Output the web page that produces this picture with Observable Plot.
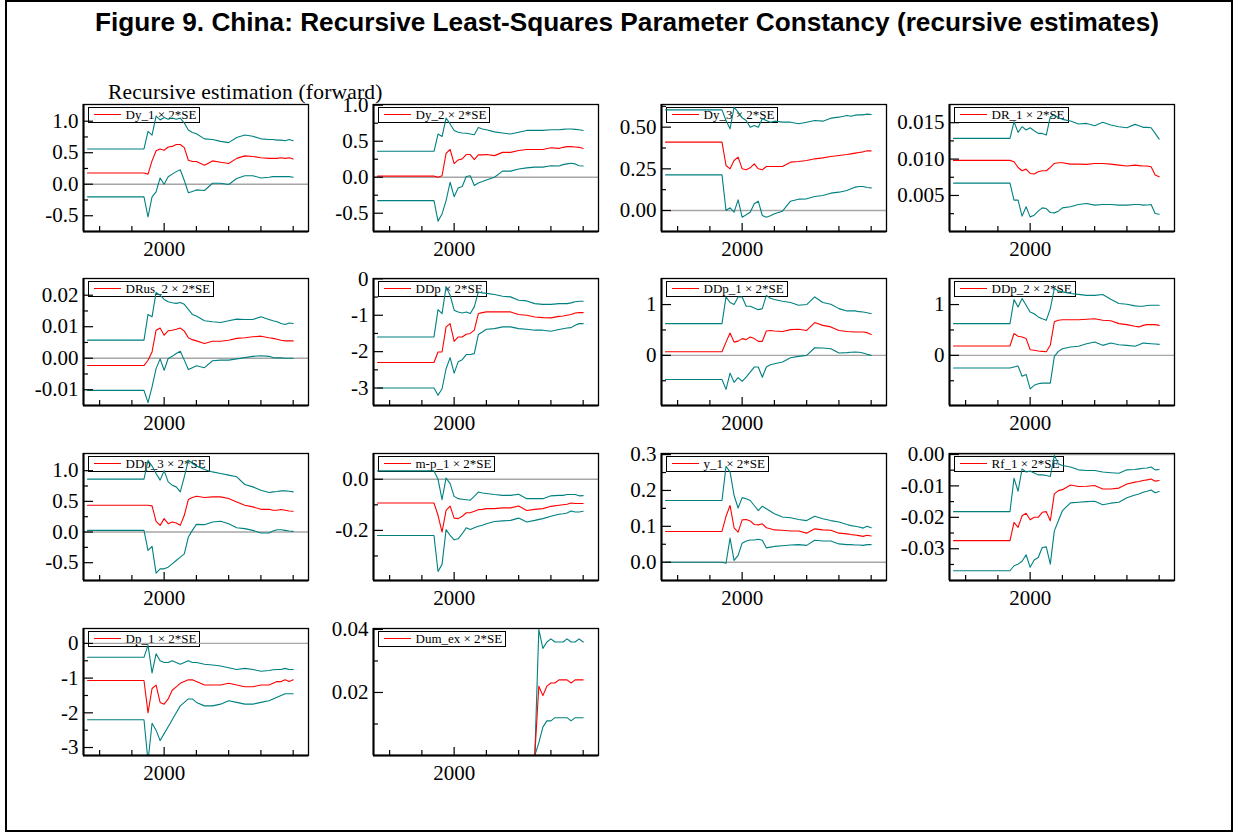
<!DOCTYPE html>
<html><head><meta charset="utf-8">
<script src="https://cdn.jsdelivr.net/npm/d3@7"></script>
<script src="https://cdn.jsdelivr.net/npm/@observablehq/plot@0.6"></script>
<style>
body{margin:0;background:#fff;}
#page{position:relative;width:1234px;height:833px;overflow:hidden;background:#fff;}
#page > svg.deco{position:absolute;left:0;top:0;}
.panel{position:absolute;z-index:2;}
.legend{position:absolute;z-index:1;box-sizing:border-box;height:16px;border:1px solid #000;display:flex;align-items:center;padding-right:3px;font:13px 'Liberation Serif','Times New Roman',serif;white-space:nowrap;}
.legend .sw{display:inline-block;width:27px;height:0;border-top:1px solid #ff0000;margin-left:5px;margin-right:5px;}
</style></head>
<body><div id="page"></div>
<script>
// ---------- data ----------
// time grid (decimal years) for recursive estimates
const quarters = [1995.25, 1998.75, 1999.0, 1999.25, 1999.5, 1999.75, 2000.0, 2000.25, 2000.5, 2000.75,
  2001.0, 2001.25, 2001.5, 2001.75, 2002.0, 2002.5, 2003.0, 2003.5, 2004.0, 2004.5,
  2005.0, 2005.5, 2006.0, 2006.5, 2006.75, 2007.0, 2007.25, 2007.5, 2007.75, 2008.0];
const dumDates = [1995.25, 2005.0, 2005.25, 2005.5, 2005.75, 2006.0, 2006.25, 2006.5, 2006.75, 2007.0, 2007.25, 2007.5, 2007.75, 2008.0];

const Dy_1_hi = [0.56,0.56,0.84,0.78,1.08,1.02,1.06,1.03,1.05,1.03,1.05,0.97,0.86,0.82,0.80,0.72,0.71,0.68,0.66,0.74,0.78,0.76,0.72,0.71,0.71,0.70,0.70,0.69,0.71,0.69];
const Dy_1_est = [0.177,0.177,0.16,0.37,0.53,0.56,0.54,0.59,0.60,0.63,0.63,0.58,0.38,0.36,0.36,0.30,0.37,0.35,0.33,0.41,0.45,0.44,0.42,0.41,0.41,0.41,0.42,0.41,0.42,0.40];
const Dy_1_lo = [-0.20,-0.20,-0.52,-0.20,-0.12,0.10,0.0,0.12,0.16,0.20,0.23,0.06,-0.135,-0.115,-0.09,-0.10,0.015,0.015,-0.005,0.09,0.135,0.135,0.10,0.11,0.12,0.12,0.12,0.12,0.12,0.11];

const Dy_2_hi = [0.36,0.36,0.60,0.565,0.82,0.74,0.65,0.625,0.615,0.61,0.60,0.59,0.69,0.67,0.66,0.63,0.615,0.60,0.625,0.65,0.65,0.65,0.66,0.66,0.665,0.67,0.67,0.665,0.66,0.65];
const Dy_2_est = [0.015,0.015,0.0,0.02,0.33,0.385,0.19,0.24,0.255,0.315,0.315,0.245,0.31,0.31,0.315,0.30,0.345,0.345,0.37,0.385,0.385,0.385,0.41,0.40,0.415,0.425,0.425,0.42,0.415,0.40];
const Dy_2_lo = [-0.325,-0.325,-0.61,-0.51,-0.325,-0.07,-0.27,-0.15,-0.13,0.01,0.02,-0.115,-0.08,-0.06,-0.04,0.0,0.085,0.085,0.115,0.13,0.14,0.14,0.16,0.155,0.175,0.185,0.195,0.185,0.16,0.155];

const Dy_3_hi = [0.604,0.604,0.54,0.49,0.62,0.59,0.556,0.54,0.50,0.51,0.50,0.55,0.54,0.53,0.536,0.53,0.53,0.52,0.53,0.54,0.536,0.554,0.56,0.57,0.565,0.572,0.574,0.574,0.578,0.576];
const Dy_3_est = [0.41,0.41,0.27,0.25,0.30,0.32,0.25,0.244,0.256,0.28,0.25,0.244,0.264,0.264,0.264,0.264,0.29,0.294,0.30,0.31,0.316,0.324,0.33,0.336,0.34,0.344,0.348,0.352,0.358,0.358];
const Dy_3_lo = [0.214,0.214,0.0,0.016,-0.01,0.064,-0.04,-0.026,-0.01,0.04,0.056,-0.03,-0.04,-0.032,-0.02,-0.004,0.056,0.068,0.07,0.084,0.09,0.104,0.11,0.12,0.13,0.14,0.144,0.144,0.138,0.136];

const DR_1_hi = [0.01284,0.01284,0.01514,0.01367,0.01445,0.0140,0.0143,0.0139,0.01353,0.01353,0.0133,0.01583,0.01606,0.01569,0.01546,0.01523,0.01482,0.0149,0.01459,0.01505,0.01468,0.01445,0.01431,0.01477,0.01459,0.01436,0.01436,0.01431,0.01353,0.01275];
const DR_1_est = [0.00982,0.00982,0.00963,0.00885,0.0084,0.00862,0.00803,0.00794,0.00826,0.0084,0.0084,0.00885,0.0094,0.0095,0.0095,0.00931,0.00931,0.00927,0.0094,0.0094,0.00931,0.00917,0.00904,0.00917,0.0091,0.00904,0.00904,0.00894,0.0078,0.00757];
const DR_1_lo = [0.0067,0.0067,0.00436,0.00436,0.00216,0.00344,0.00206,0.00229,0.00284,0.0033,0.0032,0.00266,0.00261,0.00284,0.0033,0.00344,0.00376,0.0039,0.00367,0.00376,0.00376,0.00367,0.00367,0.00376,0.00376,0.00367,0.0037,0.00376,0.00252,0.00243];

const DRus_2_hi = [0.00573,0.00573,0.0139,0.01315,0.0209,0.0200,0.01866,0.0179,0.0176,0.0174,0.0177,0.0171,0.0155,0.0139,0.0134,0.01188,0.01156,0.01135,0.01188,0.0124,0.0123,0.0123,0.01315,0.0123,0.0119,0.0116,0.0110,0.0107,0.0112,0.0110];
const DRus_2_est = [-0.00233,-0.00233,-0.00064,0.002,0.0089,0.0096,0.0073,0.0087,0.0089,0.0092,0.0096,0.0086,0.0065,0.0059,0.0055,0.0047,0.0054,0.0054,0.0057,0.0063,0.0065,0.0068,0.0070,0.0065,0.0063,0.0060,0.0057,0.0055,0.0055,0.0055];
const DRus_2_lo = [-0.0102,-0.0102,-0.0141,-0.0091,-0.0033,-0.0002,-0.0038,-0.0001,0.0006,0.0015,0.0022,-0.0006,-0.0036,-0.003,-0.0024,-0.003,-0.0008,-0.0006,-0.0006,-0.0002,0.0002,0.0006,0.0008,0.0006,0.0002,0.0001,0.0001,0.0,0.0,0.0];

const DDp_hi = [-1.596,-1.596,-0.844,-0.954,-0.22,-0.45,-0.86,-0.91,-0.936,-0.91,-0.954,-0.77,-0.36,-0.385,-0.40,-0.43,-0.477,-0.495,-0.587,-0.606,-0.68,-0.70,-0.70,-0.68,-0.68,-0.68,-0.66,-0.63,-0.615,-0.615];
const DDp_est = [-2.30,-2.30,-2.01,-2.01,-1.32,-1.23,-1.716,-1.596,-1.596,-1.52,-1.50,-1.41,-0.954,-0.927,-0.908,-0.908,-0.908,-0.908,-0.98,-1.0,-1.046,-1.064,-1.073,-1.03,-1.02,-1.0,-0.98,-0.936,-0.927,-0.927];
const DDp_lo = [-3.0,-3.0,-3.2,-3.02,-2.47,-2.165,-2.59,-2.28,-2.22,-2.08,-2.08,-2.055,-1.53,-1.46,-1.385,-1.367,-1.32,-1.32,-1.367,-1.385,-1.41,-1.41,-1.44,-1.39,-1.37,-1.35,-1.34,-1.275,-1.23,-1.23];

const DDp_1_hi = [0.625,0.625,1.15,1.04,1.0,1.15,1.15,0.967,0.967,0.934,0.90,0.92,1.18,1.125,1.10,1.066,1.04,0.987,1.0,1.15,1.04,1.007,0.92,0.875,0.875,0.875,0.86,0.855,0.84,0.82];
const DDp_1_est = [0.072,0.072,0.26,0.44,0.26,0.28,0.33,0.31,0.36,0.33,0.276,0.276,0.48,0.49,0.48,0.47,0.506,0.513,0.49,0.645,0.59,0.56,0.49,0.47,0.465,0.46,0.46,0.46,0.447,0.41];
const DDp_1_lo = [-0.474,-0.474,-0.67,-0.35,-0.53,-0.44,-0.51,-0.43,-0.33,-0.23,-0.23,-0.43,-0.23,-0.184,-0.164,-0.13,-0.046,-0.02,0.0,0.15,0.145,0.13,0.046,0.053,0.06,0.066,0.06,0.046,0.02,0.0];

const DDp_2_hi = [0.625,0.625,1.10,0.954,1.12,0.987,0.855,0.82,0.757,0.72,0.69,0.92,1.316,1.27,1.25,1.217,1.20,1.18,1.18,1.197,1.105,1.02,1.007,0.974,0.967,0.967,0.98,0.987,0.987,0.987];
const DDp_2_est = [0.184,0.184,0.43,0.375,0.36,0.33,0.11,0.10,0.086,0.079,0.072,0.2,0.66,0.69,0.70,0.70,0.70,0.71,0.72,0.69,0.68,0.625,0.605,0.572,0.56,0.59,0.605,0.605,0.605,0.59];
const DDp_2_lo = [-0.25,-0.25,-0.23,-0.21,-0.41,-0.375,-0.66,-0.59,-0.56,-0.546,-0.546,-0.546,-0.02,0.079,0.13,0.164,0.178,0.23,0.263,0.197,0.243,0.21,0.197,0.178,0.21,0.243,0.235,0.23,0.225,0.217];

const DDp_3_hi = [0.862,0.862,1.17,1.075,0.955,0.846,1.0,0.818,0.764,0.736,0.655,0.90,1.17,1.118,1.075,1.02,0.98,0.955,0.927,0.90,0.775,0.736,0.68,0.644,0.655,0.66,0.671,0.671,0.665,0.655];
const DDp_3_est = [0.436,0.436,0.436,0.426,0.175,0.109,0.218,0.136,0.164,0.147,0.109,0.273,0.53,0.562,0.584,0.562,0.573,0.573,0.546,0.49,0.436,0.41,0.37,0.37,0.355,0.355,0.366,0.355,0.344,0.338];
const DDp_3_lo = [0.027,0.027,-0.30,-0.235,-0.67,-0.60,-0.60,-0.573,-0.518,-0.464,-0.41,-0.355,-0.082,0.027,0.125,0.12,0.164,0.175,0.136,0.071,0.055,0.027,-0.016,-0.016,0.016,0.038,0.038,0.027,0.016,0.011];

const mp_1_hi = [0.0327,0.0327,0.0,-0.08,0.005,-0.017,-0.067,-0.076,-0.078,-0.08,-0.082,-0.067,-0.05,-0.054,-0.056,-0.06,-0.063,-0.063,-0.059,-0.076,-0.076,-0.076,-0.065,-0.063,-0.063,-0.06,-0.06,-0.06,-0.065,-0.064];
const mp_1_est = [-0.093,-0.093,-0.141,-0.2065,-0.122,-0.105,-0.152,-0.154,-0.145,-0.131,-0.131,-0.125,-0.119,-0.118,-0.115,-0.115,-0.112,-0.112,-0.105,-0.122,-0.118,-0.115,-0.106,-0.102,-0.1,-0.098,-0.093,-0.095,-0.095,-0.095];
const mp_1_lo = [-0.22,-0.22,-0.361,-0.333,-0.197,-0.22,-0.237,-0.233,-0.213,-0.19,-0.197,-0.19,-0.184,-0.18,-0.174,-0.165,-0.163,-0.161,-0.152,-0.167,-0.161,-0.154,-0.145,-0.137,-0.135,-0.132,-0.124,-0.128,-0.128,-0.125];

const y_1_hi = [0.172,0.172,0.267,0.252,0.186,0.151,0.18,0.177,0.172,0.158,0.144,0.156,0.149,0.142,0.135,0.126,0.124,0.119,0.116,0.128,0.121,0.116,0.112,0.105,0.102,0.10,0.098,0.095,0.10,0.096];
const y_1_est = [0.0857,0.0857,0.128,0.158,0.096,0.084,0.118,0.119,0.115,0.105,0.104,0.107,0.096,0.093,0.09,0.089,0.087,0.087,0.081,0.093,0.09,0.089,0.081,0.079,0.077,0.076,0.074,0.072,0.075,0.073];
const y_1_lo = [0.0,0.0,-0.003,0.067,0.005,0.019,0.053,0.059,0.062,0.062,0.064,0.061,0.04,0.042,0.044,0.046,0.048,0.049,0.047,0.061,0.059,0.059,0.051,0.049,0.049,0.048,0.048,0.047,0.049,0.049];

const Rf_1_hi = [-0.0182,-0.0182,-0.00755,-0.0117,-0.00457,-0.0056,-0.0053,-0.0059,-0.0065,-0.0065,-0.0067,-0.007,-0.0003,-0.003,-0.0035,-0.004,-0.0049,-0.0051,-0.0051,-0.0056,-0.0058,-0.006,-0.0049,-0.0048,-0.0046,-0.0044,-0.0043,-0.004,-0.0049,-0.0048];
const Rf_1_est = [-0.0274,-0.0274,-0.0216,-0.0232,-0.0195,-0.0187,-0.0208,-0.02,-0.02,-0.0184,-0.0182,-0.0211,-0.01255,-0.0115,-0.0112,-0.0097,-0.0102,-0.0101,-0.0099,-0.011,-0.011,-0.0107,-0.0094,-0.0088,-0.0086,-0.0083,-0.0081,-0.0078,-0.0085,-0.0083];
const Rf_1_lo = [-0.037,-0.037,-0.0354,-0.0349,-0.034,-0.0319,-0.0359,-0.0336,-0.0328,-0.0296,-0.0294,-0.0349,-0.0243,-0.0211,-0.0179,-0.0154,-0.0152,-0.015,-0.0149,-0.016,-0.0155,-0.0152,-0.0138,-0.0129,-0.0126,-0.012,-0.0117,-0.0113,-0.0122,-0.0118];

const Dp_1_hi = [-0.40,-0.40,-0.05,-0.85,-0.30,-0.50,-0.55,-0.55,-0.50,-0.55,-0.60,-0.55,-0.50,-0.55,-0.55,-0.60,-0.62,-0.65,-0.70,-0.75,-0.72,-0.75,-0.80,-0.78,-0.76,-0.75,-0.75,-0.72,-0.75,-0.75];
const Dp_1_est = [-1.07,-1.07,-2.0,-1.3,-1.2,-1.7,-1.75,-1.6,-1.35,-1.25,-1.15,-1.1,-1.05,-1.05,-1.1,-1.2,-1.2,-1.2,-1.15,-1.2,-1.25,-1.25,-1.2,-1.2,-1.15,-1.1,-1.1,-1.05,-1.1,-1.05];
const Dp_1_lo = [-2.2,-2.2,-3.4,-2.3,-2.5,-2.8,-2.6,-2.4,-2.2,-2.0,-1.8,-1.7,-1.6,-1.6,-1.7,-1.8,-1.8,-1.75,-1.65,-1.7,-1.75,-1.75,-1.7,-1.65,-1.6,-1.55,-1.5,-1.45,-1.45,-1.45];

const Dum_ex_hi = [0,0,0.040,0.034,0.036,0.037,0.036,0.036,0.036,0.037,0.036,0.036,0.037,0.036];
const Dum_ex_est = [0,0,0.022,0.019,0.022,0.023,0.023,0.024,0.024,0.024,0.023,0.024,0.024,0.024];
const Dum_ex_lo = [0,0,0.004,0.009,0.011,0.011,0.012,0.012,0.012,0.012,0.011,0.012,0.012,0.012];

const xMinorTicks = [1996, 1998, 2002, 2004, 2006, 2008];
const xMajorTicks = [2000];

const panels = [
  {label:"Dy_1",   t:quarters, hi:Dy_1_hi,   est:Dy_1_est,   lo:Dy_1_lo,   y:[-0.75,1.265],  major:[-0.5,0,0.5,1], minor:[-0.25,0.25,0.75], dp:1},
  {label:"Dy_2",   t:quarters, hi:Dy_2_hi,   est:Dy_2_est,   lo:Dy_2_lo,   y:[-0.754,1.01],  major:[-0.5,0,0.5,1], minor:[-0.25,0.25,0.75], dp:1},
  {label:"Dy_3",   t:quarters, hi:Dy_3_hi,   est:Dy_3_est,   lo:Dy_3_lo,   y:[-0.126,0.636], major:[0,0.25,0.5], minor:[0.125,0.375,0.625], dp:2},
  {label:"DR_1",   t:quarters, hi:DR_1_hi,   est:DR_1_est,   lo:DR_1_lo,   y:[0.00005,0.0175], major:[0.005,0.01,0.015], minor:[0.0025,0.0075,0.0125], dp:3},
  {label:"DRus_2", t:quarters, hi:DRus_2_hi, est:DRus_2_est, lo:DRus_2_lo, y:[-0.015,0.0253], major:[-0.01,0,0.01,0.02], minor:[-0.005,0.005,0.015], dp:2},
  {label:"DDp",    t:quarters, hi:DDp_hi,    est:DDp_est,    lo:DDp_lo,    y:[-3.48,0.01],   major:[-3,-2,-1,0], minor:[-2.5,-1.5,-0.5], dp:0},
  {label:"DDp_1",  t:quarters, hi:DDp_1_hi,  est:DDp_1_est,  lo:DDp_1_lo,  y:[-0.987,1.513], major:[0,1], minor:[-0.5,0.5], dp:0},
  {label:"DDp_2",  t:quarters, hi:DDp_2_hi,  est:DDp_2_est,  lo:DDp_2_lo,  y:[-0.987,1.513], major:[0,1], minor:[-0.5,0.5], dp:0},
  {label:"DDp_3",  t:quarters, hi:DDp_3_hi,  est:DDp_3_est,  lo:DDp_3_lo,  y:[-0.79,1.28],   major:[-0.5,0,0.5,1], minor:[-0.25,0.25,0.75], dp:1},
  {label:"m-p_1",  t:quarters, hi:mp_1_hi,   est:mp_1_est,   lo:mp_1_lo,   y:[-0.396,0.1006], major:[-0.2,0], minor:[-0.3,-0.1], dp:1},
  {label:"y_1",    t:quarters, hi:y_1_hi,    est:y_1_est,    lo:y_1_lo,    y:[-0.051,0.303], major:[0,0.1,0.2,0.3], minor:[0.05,0.15,0.25], dp:1},
  {label:"Rf_1",   t:quarters, hi:Rf_1_hi,   est:Rf_1_est,   lo:Rf_1_lo,   y:[-0.0401,0.0003], major:[-0.03,-0.02,-0.01,0], minor:[-0.035,-0.025,-0.015,-0.005], dp:2},
  {label:"Dp_1",   t:quarters, hi:Dp_1_hi,   est:Dp_1_est,   lo:Dp_1_lo,   y:[-3.23,0.43],   major:[-3,-2,-1,0], minor:[-2.5,-1.5,-0.5], dp:0},
  {label:"Dum_ex", t:dumDates, hi:Dum_ex_hi, est:Dum_ex_est, lo:Dum_ex_lo, y:[0,0.0403],     major:[0.02,0.04], minor:[0.01,0.03], dp:2}
];

// ---------- layout ----------
const page = document.getElementById("page");
const FW = 225, FH = 127;
const colLeft = [83, 373, 661, 949];
const rowTop = [104, 278, 453, 628];
const M = {left: 75, right: 8, top: 10, bottom: 36};
const xDomain = [1995.0, 2008.95];
const serif = "'Liberation Serif','Times New Roman',serif";
const RED = "#ff0000", TEAL = "#008080";

// page decoration: border, title, subtitle
const deco = d3.create("svg").attr("class", "deco").attr("width", 1234).attr("height", 833);
deco.append("rect").attr("x", 6).attr("y", 1).attr("width", 1226).attr("height", 830)
  .attr("fill", "none").attr("stroke", "#000").attr("stroke-width", 2);
deco.append("text").attr("x", 95).attr("y", 31)
  .attr("font-family", "'Liberation Sans',Arial,sans-serif").attr("font-weight", "bold").attr("font-size", 26.2)
  .text("Figure 9. China: Recursive Least-Squares Parameter Constancy (recursive estimates)");
deco.append("text").attr("x", 108).attr("y", 98.5)
  .attr("font-family", serif).attr("font-size", 21.5).attr("letter-spacing", 0.2)
  .text("Recursive estimation (forward)");
page.appendChild(deco.node());

panels.forEach((p, i) => {
  const col = i % 4, row = Math.floor(i / 4);
  const fl = colLeft[col], ft = rowTop[row];
  const rows = arr => p.t.map((t, j) => ({t, v: arr[j]}));

  const chart = Plot.plot({
    width: M.left + FW + M.right,
    height: M.top + FH + M.bottom,
    marginLeft: M.left, marginRight: M.right, marginTop: M.top, marginBottom: M.bottom,
    x: {domain: xDomain, label: null},
    y: {domain: p.y, label: null},
    style: {background: "transparent", fontFamily: serif, fontSize: "21px", color: "#000", overflow: "visible"},
    marks: [
      Plot.ruleY([0], {stroke: "#a6a6a6", strokeWidth: 1.4, clip: true}),
      Plot.line(rows(p.hi), {x: "t", y: "v", stroke: TEAL, strokeWidth: 1.1, clip: true}),
      Plot.line(rows(p.lo), {x: "t", y: "v", stroke: TEAL, strokeWidth: 1.1, clip: true}),
      Plot.line(rows(p.est), {x: "t", y: "v", stroke: RED, strokeWidth: 1.1, clip: true}),
      Plot.tickY(p.major, {y: d => d, insetRight: FW - 10, stroke: "#000", strokeWidth: 1.2}),
      Plot.tickY(p.minor, {y: d => d, insetRight: FW - 5, stroke: "#000", strokeWidth: 1.2}),
      Plot.tickX(xMinorTicks, {x: d => d, insetTop: FH - 5, stroke: "#000", strokeWidth: 1.2}),
      Plot.tickX(xMajorTicks, {x: d => d, insetTop: FH - 8, stroke: "#000", strokeWidth: 1.2}),
      Plot.axisY({ticks: p.major, tickSize: 0, tickPadding: 5, label: null, tickFormat: d => d.toFixed(p.dp)}),
      Plot.axisX({ticks: xMajorTicks, tickSize: 0, tickPadding: 10, label: null, tickFormat: d => String(d)}),
      Plot.frame({stroke: "#000", strokeWidth: 1.3}),
      Plot.ruleX([xDomain[0]], {stroke: "#000", strokeWidth: 2}),
      Plot.ruleY([p.y[0]], {stroke: "#000", strokeWidth: 2})
    ]
  });
  chart.classList.add("panel");
  chart.style.left = (fl - M.left) + "px";
  chart.style.top = (ft - M.top) + "px";
  page.appendChild(chart);

  const lg = document.createElement("div");
  lg.className = "legend";
  lg.style.left = (fl + 4.5) + "px";
  lg.style.top = (ft + 2.5) + "px";
  const sw = document.createElement("span"); sw.className = "sw";
  const tx = document.createElement("span"); tx.textContent = p.label + " \u00d7 2*SE";
  lg.appendChild(sw); lg.appendChild(tx);
  page.appendChild(lg);
});
</script>
</body></html>
